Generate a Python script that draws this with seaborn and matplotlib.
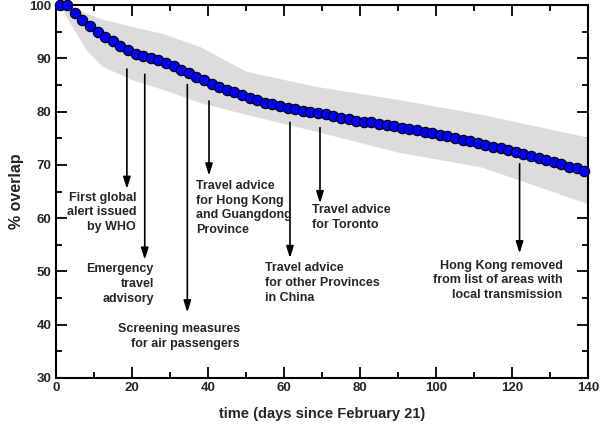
import numpy as np
import pandas as pd
import matplotlib
matplotlib.use("Agg")
import matplotlib.pyplot as plt
import seaborn as sns
from matplotlib.ticker import MultipleLocator

# ------ DATA ------ #
days = list(range(1, 141, 2))
overlap = [100.0, 100.0, 98.45, 97.2, 96.0, 95.0, 94.1, 93.2, 92.3, 91.6,
           90.9, 90.4, 90.0, 89.7, 89.2, 88.6, 87.9, 87.3, 86.5, 85.9,
           85.2, 84.7, 84.1, 83.7, 83.2, 82.6, 82.1, 81.7, 81.4, 81.0,
           80.7, 80.45, 80.2, 79.95, 79.7, 79.5, 79.1, 78.8, 78.6, 78.3,
           78.15, 78.0, 77.7, 77.5, 77.3, 77.0, 76.7, 76.5, 76.2, 75.9,
           75.7, 75.4, 75.05, 74.7, 74.5, 74.2, 73.8, 73.4, 73.1, 72.8,
           72.4, 72.0, 71.6, 71.25, 70.9, 70.5, 70.1, 69.7, 69.35, 68.85]

band_days = [1, 4, 8, 12, 20, 28, 38, 50, 68, 90, 112, 140]
band_upper = [100, 99.8, 98.5, 97.4, 96.0, 94.7, 92.2, 87.6, 84.8, 82.3, 79.5, 75.2]
band_lower = [100, 96.3, 91.6, 88.6, 86.0, 84.2, 81.7, 79.5, 76.4, 72.4, 69.6, 62.7]

event_days = [18.7, 23.4, 34.6, 40.3, 61.6, 69.5, 122.0]
event_top = [88.0, 87.0, 85.1, 82.0, 78.0, 77.0, 70.2]
event_tip = [65.5, 52.2, 42.3, 68.0, 52.5, 62.8, 53.4]
event_labels = [
    "First global\nalert issued\nby WHO",
    "Emergency\ntravel\nadvisory",
    "Screening measures\nfor air passengers",
    "Travel advice\nfor Hong Kong\nand Guangdong\nProvince",
    "Travel advice\nfor other Provinces\nin China",
    "Travel advice\nfor Toronto",
    "Hong Kong removed\nfrom list of areas with\nlocal transmission",
]
# text anchor (x, y-top) and alignment
label_x = [21.1, 25.8, 48.4, 37.0, 55.0, 67.4, 133.3]
label_y = [65.0, 51.5, 40.3, 67.2, 51.7, 62.6, 52.2]
label_ha = ["right", "right", "right", "left", "left", "left", "right"]

df = pd.DataFrame({"day": days, "overlap": overlap})

# ------ PLOT ------ #
sns.set_style("ticks")
plt.rcParams["font.family"] = ["Liberation Sans", "DejaVu Sans"]
plt.rcParams["font.weight"] = "bold"

fig, ax = plt.subplots(figsize=(6, 4.29), dpi=100)
fig.subplots_adjust(left=0.093, right=0.98, top=0.988, bottom=0.119)

ax.fill_between(band_days, band_lower, band_upper, color="#dcdcdc", lw=0, zorder=1)
sns.scatterplot(data=df, x="day", y="overlap", ax=ax, color="#0000ff",
                edgecolor="black", linewidth=0.8, s=56, zorder=3, clip_on=False)

for d, top, tip, lab, lx, ly, ha in zip(event_days, event_top, event_tip,
                                        event_labels, label_x, label_y, label_ha):
    ax.annotate("", xy=(d, tip), xytext=(d, top),
                arrowprops=dict(arrowstyle="-|>,head_length=0.7,head_width=0.22",
                                color="black", lw=1.2, mutation_scale=10,
                                shrinkA=0, shrinkB=0),
                zorder=2)
    ax.text(lx, ly, lab, ha=ha, va="top", fontsize=9, fontweight="bold",
            multialignment=ha, linespacing=1.3)

ax.set_xlim(0, 140)
ax.set_ylim(30, 100)
ax.xaxis.set_major_locator(MultipleLocator(20))
ax.xaxis.set_minor_locator(MultipleLocator(10))
ax.yaxis.set_major_locator(MultipleLocator(10))
ax.yaxis.set_minor_locator(MultipleLocator(5))
ax.tick_params(which="both", direction="in", top=True, right=True,
               width=1.3, color="black", labelsize=9.5, pad=3)
ax.tick_params(which="major", length=8)
ax.tick_params(which="minor", length=4.5)
for sp in ax.spines.values():
    sp.set_linewidth(1.5)
    sp.set_color("black")

ax.set_xlabel("time (days since February 21)", fontsize=10.5, fontweight="bold", labelpad=9)
ax.set_ylabel("% overlap", fontsize=11.5, fontweight="bold", labelpad=4)

fig.canvas.draw()
plt.setp(ax.get_xticklabels() + ax.get_yticklabels(), fontweight="bold")

fig.savefig("out.png", dpi=100)
